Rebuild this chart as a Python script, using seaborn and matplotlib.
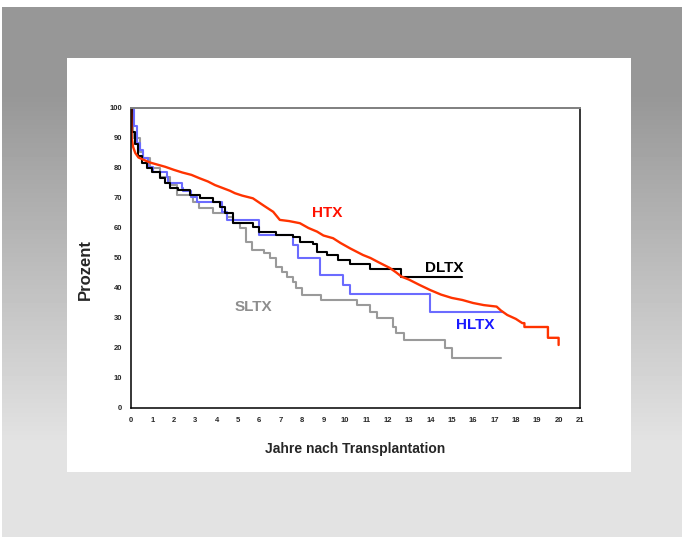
import numpy as np
import pandas as pd
import seaborn as sns
import matplotlib.pyplot as plt
from matplotlib.patches import Rectangle

# survival curves (years, percent)
htx_x = [0, 0.03, 0.1, 0.2, 0.35, 0.6, 0.9, 1.3, 1.6, 2.0, 2.4, 2.83, 3.2, 3.6, 3.93, 4.3,
         4.63, 4.86, 5.2, 5.7, 6.2, 6.65, 6.96, 7.4, 7.9, 8.3, 8.7, 9.0, 9.45, 9.8, 10.25,
         10.85, 11.2, 11.6, 12.1, 12.4, 12.65, 13.0, 13.5, 14.0, 14.5, 15.0, 15.5, 16.0,
         16.5, 17.1, 17.3, 17.6, 18.0, 18.3, 18.4, 18.4, 19.5, 19.5, 20.0, 20.0]
htx_y = [100, 90, 87, 85, 83.5, 82.7, 81.8, 81, 80.4, 79.4, 78.5, 77.7, 76.6, 75.5, 74.3, 73.3,
         72.4, 71.6, 70.8, 69.9, 67.5, 65.4, 62.7, 62.3, 61.6, 60, 58.8, 57.5, 56.6, 55, 53.2,
         51, 50, 48.5, 46.7, 45.2, 43.8, 42.8, 41, 39.3, 37.8, 36.7, 36, 35,
         34.3, 33.8, 32.5, 31, 29.7, 28.3, 28.3, 27, 27, 23.4, 23.4, 21]

dltx_x = [0, 0.05, 0.19, 0.33, 0.5, 0.75, 0.97, 1.36, 1.6, 1.82, 2.2, 2.76, 3.22, 3.85, 4.16,
          4.4, 4.78, 5.7, 6.0, 6.8, 7.6, 7.9, 8.5, 8.7, 9.15, 9.7, 10.25, 11.2, 12.65, 15.5]
dltx_y = [100, 92, 88, 84, 81.6, 80, 78.8, 76.6, 75, 73.5, 72.7, 71, 69.9, 68.8, 67.1,
          64.9, 61.6, 60.4, 58.8, 57.7, 57.1, 55.4, 54.6, 52.1, 51, 49.5, 47.9, 46.2, 43.8, 43.8]

hltx_x = [0, 0.15, 0.27, 0.42, 0.58, 0.8, 1.04, 1.67, 1.75, 2.37, 2.45, 2.8, 3.07, 4.24, 4.47,
          6.0, 7.6, 7.8, 8.83, 9.93, 10.25, 14.0, 17.4]
hltx_y = [100, 94, 88.2, 86, 83.2, 80.5, 78.8, 77.1, 74.9, 73.2, 72.2, 70.5, 68.8, 65.4, 62.7,
          57.7, 54.3, 49.9, 44.3, 41, 37.9, 32.1, 32.1]

sltx_x = [0, 0.1, 0.42, 0.58, 0.89, 1.36, 1.82, 2.14, 2.9, 3.2, 3.85, 4.47, 4.78, 5.1, 5.4,
          5.64, 6.2, 6.5, 6.8, 7.04, 7.28, 7.6, 7.74, 7.98, 8.9, 10.55, 11.2, 11.5, 12.27,
          12.4, 12.75, 14.7, 15.0, 17.3]
sltx_y = [100, 90, 85.4, 83.2, 79.9, 77.1, 74.3, 71, 68.8, 66.6, 64.9, 63.8, 61.6, 59.9, 55.4,
          52.7, 51.6, 49.9, 47.1, 45.4, 43.8, 42.1, 39.9, 37.7, 36, 34.3, 32.1, 29.9, 27.1,
          24.9, 22.7, 19.9, 16.6, 16.6]

step_groups = ["SLTX", "HLTX", "DLTX"]
groups = step_groups + ["HTX"]
line_colors = {"HTX": "#ff3300", "DLTX": "#000000", "HLTX": "#6b6bff", "SLTX": "#9a9a9a"}
label_colors = {"HTX": "#ff1100", "DLTX": "#000000", "HLTX": "#1a1aff", "SLTX": "#8e8e8e"}
label_pos = {"HTX": (9.17, 65), "DLTX": (14.64, 46.7), "HLTX": (16.09, 27.7), "SLTX": (5.71, 33.7)}

steps_df = pd.concat([
    pd.DataFrame({"jahre": dltx_x, "prozent": dltx_y, "gruppe": "DLTX"}),
    pd.DataFrame({"jahre": hltx_x, "prozent": hltx_y, "gruppe": "HLTX"}),
    pd.DataFrame({"jahre": sltx_x, "prozent": sltx_y, "gruppe": "SLTX"}),
], ignore_index=True)
htx_df = pd.DataFrame({"jahre": htx_x, "prozent": htx_y})

sns.set_style("white")
plt.rcParams["font.family"] = ["Liberation Sans", "DejaVu Sans"]

W, H = 682, 537
fig = plt.figure(figsize=(W / 100, H / 100), dpi=100)

# slide background: gray gradient with a white panel
bg = fig.add_axes([0, 0, 1, 1])
col = np.full(H, 227.0)
col[7:95] = 151
col[95:440] = np.linspace(151, 226, 345)
col[:7] = 255
img = np.repeat(col[:, None], W, axis=1)
img[:, :2] = 255
bg.imshow(img, cmap="gray", vmin=0, vmax=255, aspect="auto", extent=(0, W, H, 0))
bg.add_patch(Rectangle((67, 58), 564, 414, facecolor="white", edgecolor="none"))
bg.set_xlim(0, W)
bg.set_ylim(H, 0)
bg.axis("off")

ax = fig.add_axes([131 / W, 1 - 408 / H, 449 / W, 300 / H])
ax.set_facecolor("white")
sns.lineplot(data=steps_df, x="jahre", y="prozent", hue="gruppe", hue_order=step_groups,
             palette=line_colors, estimator=None, sort=False, drawstyle="steps-post",
             linewidth=1.5, legend=False, ax=ax)
sns.lineplot(data=htx_df, x="jahre", y="prozent", color=line_colors["HTX"],
             estimator=None, sort=False, linewidth=1.7, ax=ax)

for g in groups:
    ax.text(*label_pos[g], g, color=label_colors[g], fontsize=11, fontweight="bold",
            ha="center", va="center")

ax.set_xlim(0, 21)
ax.set_ylim(0, 100)
ax.set_xticks(range(0, 22))
ax.set_yticks(range(0, 101, 10))
narrow = ["Liberation Sans Narrow", "Liberation Sans", "DejaVu Sans"]
ax.set_xticklabels([str(v) for v in range(0, 22)], fontsize=5.5, fontweight="bold", family=narrow)
ax.set_yticklabels([str(v) for v in range(0, 101, 10)], fontsize=5.5, fontweight="bold", family=narrow)
ax.tick_params(axis="both", direction="out", length=4, width=1, color="black", pad=2.5)

for side in ["left", "bottom", "right"]:
    ax.spines[side].set_color("black")
    ax.spines[side].set_linewidth(1.1)
ax.spines["top"].set_color("#7f7f7f")
ax.spines["top"].set_linewidth(1.4)

ax.set_xlabel("Jahre nach Transplantation", fontsize=10, fontweight="bold", labelpad=13)
ax.set_ylabel("Prozent", fontsize=12, fontweight="bold")
ax.yaxis.set_label_coords(-0.085, 0.46)

fig.savefig("out.png", dpi=100)
